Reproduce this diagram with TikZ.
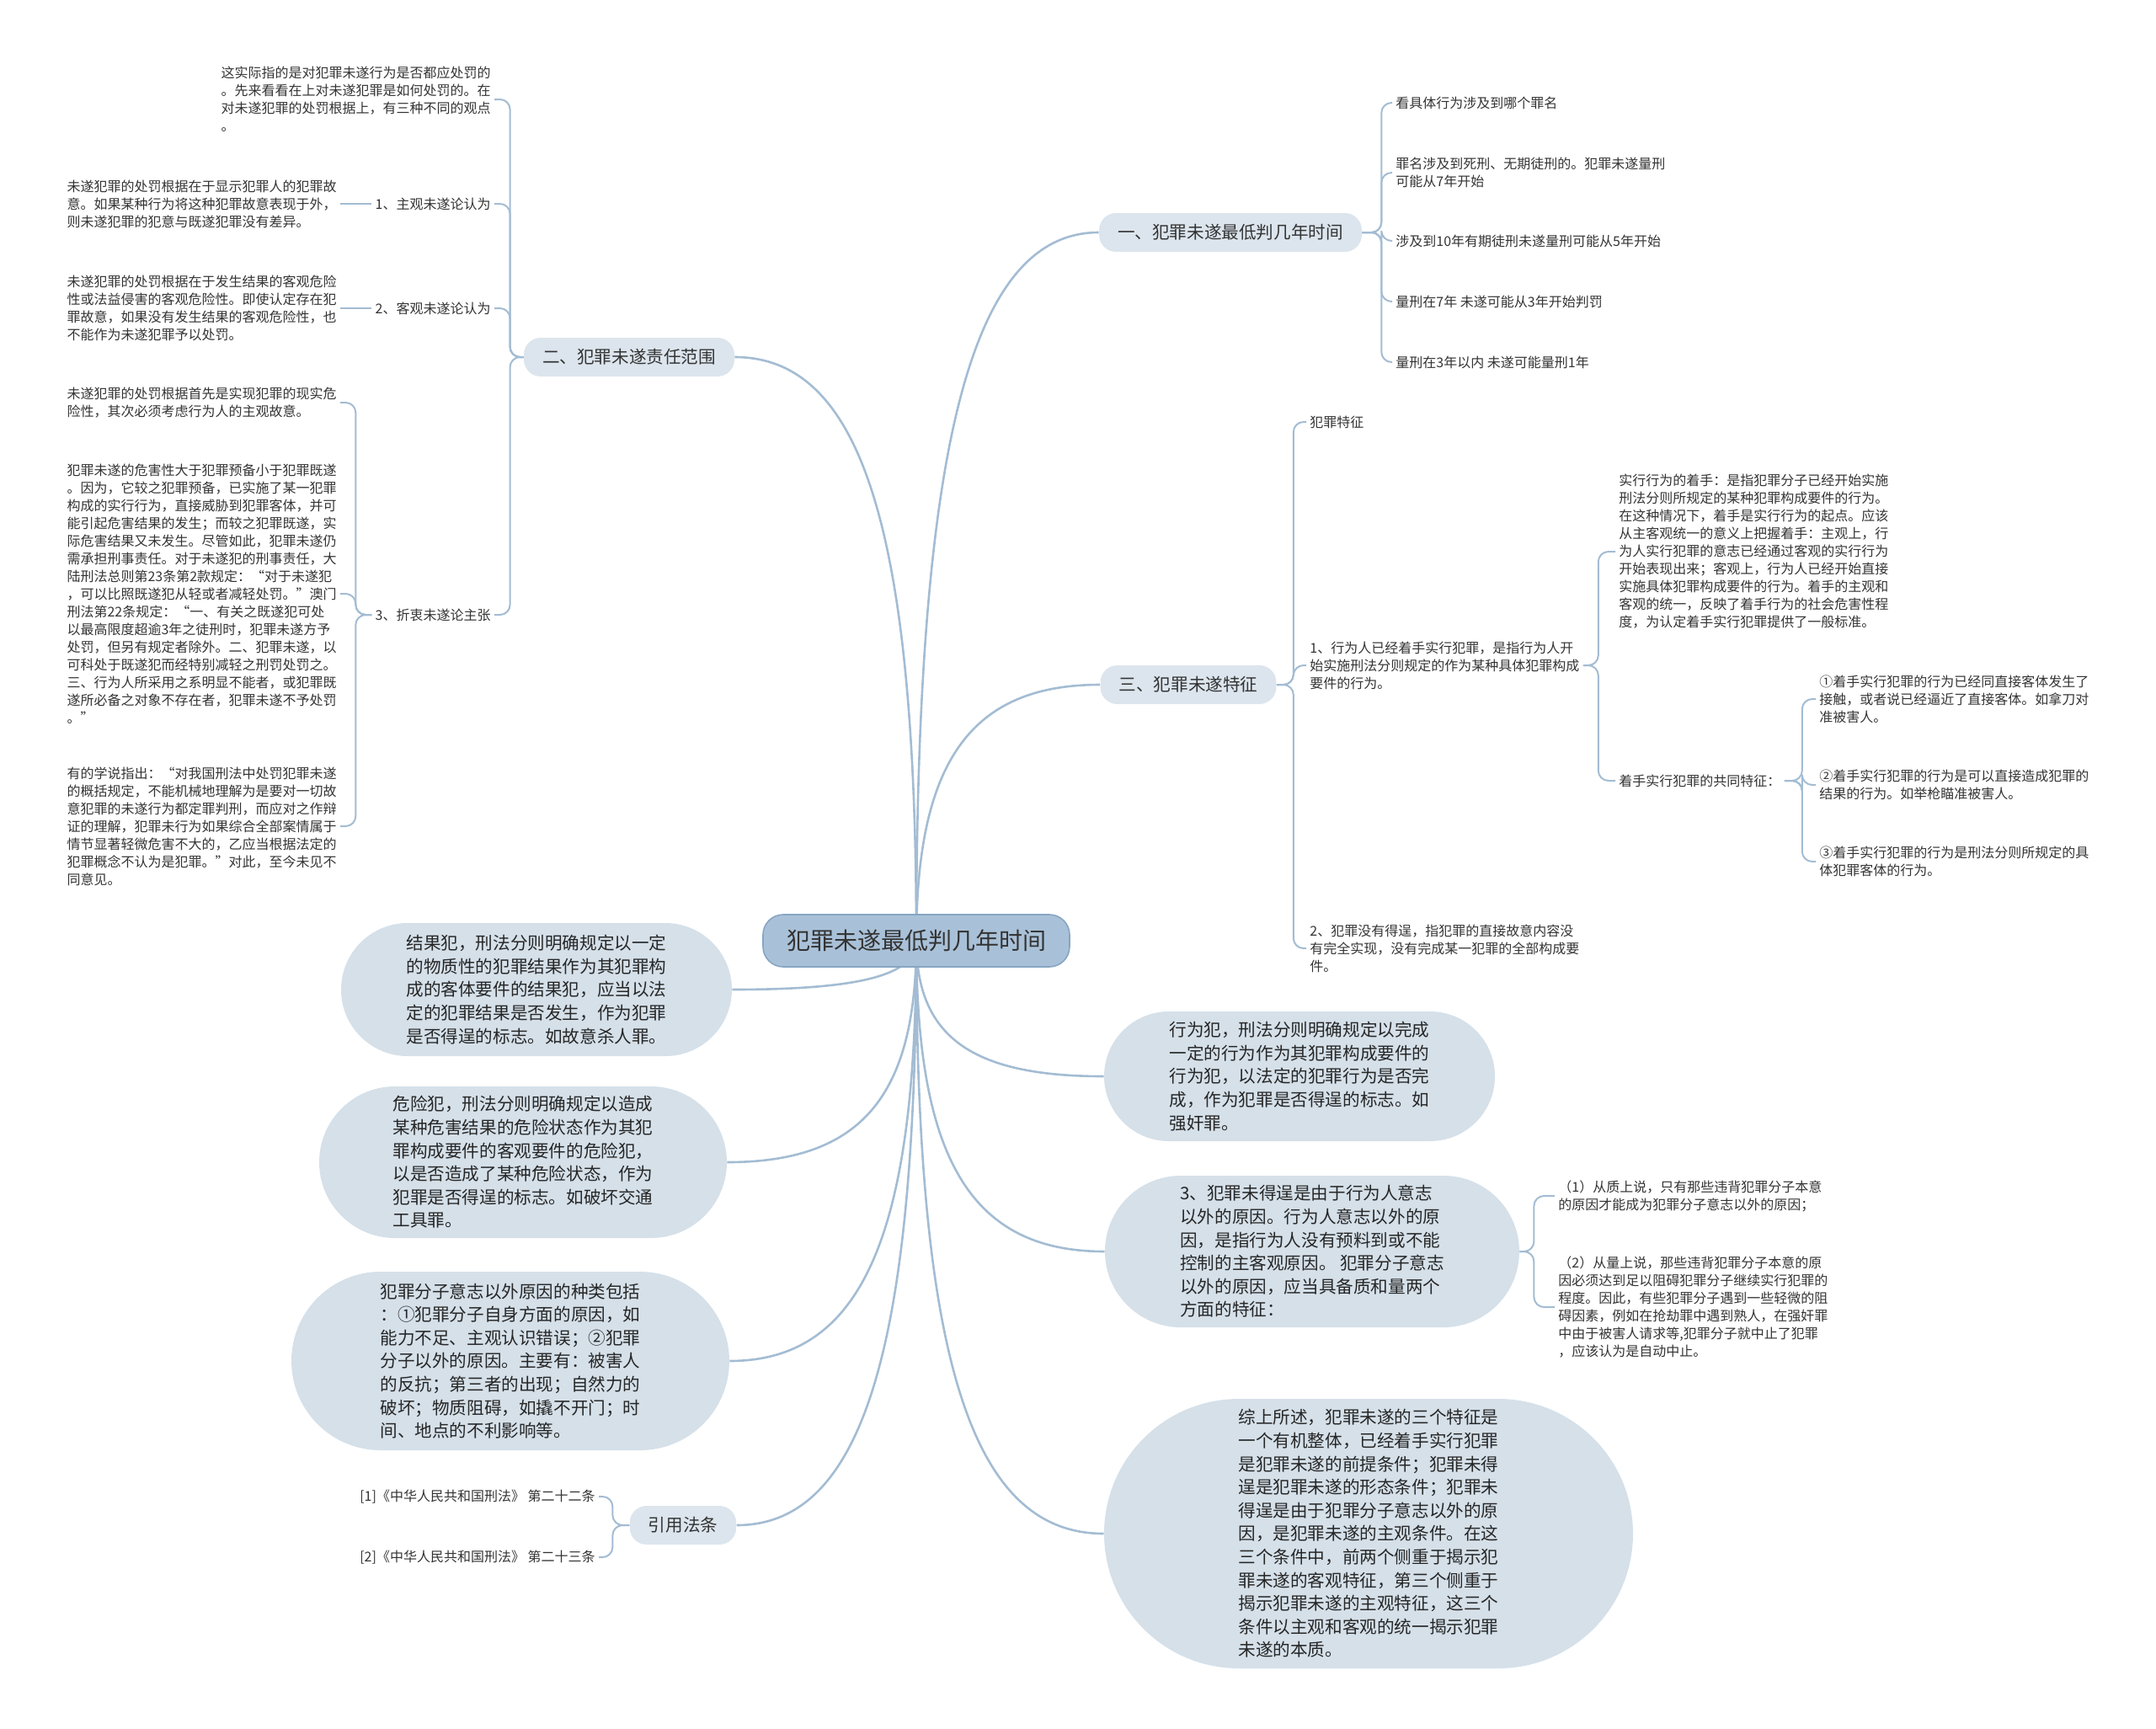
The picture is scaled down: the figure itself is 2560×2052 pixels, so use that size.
\documentclass[tikz,border=0pt]{standalone}
\usepackage{fontspec}
\setmainfont{Noto Sans CJK SC}
\usetikzlibrary{shapes.misc, positioning, backgrounds}
\definecolor{linkblue}{HTML}{A3BCD3}
\definecolor{rootfill}{HTML}{A9C1D8}
\definecolor{rootdraw}{HTML}{86A5C3}
\definecolor{branchfill}{HTML}{DCE5ED}
\definecolor{bubblefill}{HTML}{D5E0E9}
\definecolor{inkgray}{HTML}{333333}

\begin{document}
\begin{tikzpicture}[x=0.5pt, y=-0.5pt,
  root/.style={rectangle, rounded corners=12pt, fill=rootfill, draw=rootdraw,
               line width=0.8pt, minimum width=182pt, minimum height=31pt,
               font=\fontsize{14}{16}\selectfont, text=inkgray},
  branch/.style={rectangle, rounded corners=10pt, fill=branchfill,
                 minimum height=23pt, inner xsep=11pt,
                 font=\fontsize{10.3}{12}\selectfont, text=inkgray},
  leaf/.style={align=left, inner sep=2pt, font=\fontsize{8}{10.5}\selectfont,
               text=inkgray},
  bubble/.style={rounded rectangle, fill=bubblefill, align=left,
                 inner xsep=4pt, inner ysep=5pt,
                 font=\fontsize{10.3}{13.8}\selectfont, text=black!85},
  wire/.style={draw=linkblue, line width=1.3pt},
  link/.style={draw=linkblue, line width=1pt, rounded corners=6pt}
]
\useasboundingbox (0,0) rectangle (2560,2052);

% Central topic
\node[root] (root) at (1088,1117) {犯罪未遂最低判几年时间};

% Branch one: minimum sentence
\node[branch] (b1) at (1461,276) {一、犯罪未遂最低判几年时间};
\node[leaf, anchor=west] (l11) at (1653,122) {看具体行为涉及到哪个罪名};
\node[leaf, anchor=west] (l12) at (1653,205)
      {罪名涉及到死刑、无期徒刑的。犯罪未遂量刑\\可能从7年开始};
\node[leaf, anchor=west] (l13) at (1653,286) {涉及到10年有期徒刑未遂量刑可能从5年开始};
\node[leaf, anchor=west] (l14) at (1653,358) {量刑在7年 未遂可能从3年开始判罚};
\node[leaf, anchor=west] (l15) at (1653,430) {量刑在3年以内 未遂可能量刑1年};

% Branch two: scope of liability
\node[branch] (b2) at (747,424) {二、犯罪未遂责任范围};
\node[leaf, anchor=east] (l21) at (587,118)
      {这实际指的是对犯罪未遂行为是否都应处罚的\\。先来看看在上对未遂犯罪是如何处罚的。在\\对未遂犯罪的处罚根据上，有三种不同的观点\\。};
\node[leaf, anchor=east] (l22) at (587,242) {1、主观未遂论认为};
\node[leaf, anchor=east] (l22a) at (404,242)
      {未遂犯罪的处罚根据在于显示犯罪人的犯罪故\\意。如果某种行为将这种犯罪故意表现于外，\\则未遂犯罪的犯意与既遂犯罪没有差异。};
\node[leaf, anchor=east] (l23) at (587,366) {2、客观未遂论认为};
\node[leaf, anchor=east] (l23a) at (404,366)
      {未遂犯罪的处罚根据在于发生结果的客观危险\\性或法益侵害的客观危险性。即使认定存在犯\\罪故意，如果没有发生结果的客观危险性，也\\不能作为未遂犯罪予以处罚。};
\node[leaf, anchor=east] (l24) at (587,730) {3、折衷未遂论主张};
\node[leaf, anchor=east] (l24a) at (404,478)
      {未遂犯罪的处罚根据首先是实现犯罪的现实危\\险性，其次必须考虑行为人的主观故意。};
\node[leaf, anchor=east] (l24b) at (404,705)
      {犯罪未遂的危害性大于犯罪预备小于犯罪既遂\\。因为，它较之犯罪预备，已实施了某一犯罪\\构成的实行行为，直接威胁到犯罪客体，并可\\能引起危害结果的发生；而较之犯罪既遂，实\\际危害结果又未发生。尽管如此，犯罪未遂仍\\需承担刑事责任。对于未遂犯的刑事责任，大\\陆刑法总则第23条第2款规定：“对于未遂犯\\，可以比照既遂犯从轻或者减轻处罚。”澳门\\刑法第22条规定：“一、有关之既遂犯可处\\以最高限度超逾3年之徒刑时，犯罪未遂方予\\处罚，但另有规定者除外。二、犯罪未遂，以\\可科处于既遂犯而经特别减轻之刑罚处罚之。\\三、行为人所采用之系明显不能者，或犯罪既\\遂所必备之对象不存在者，犯罪未遂不予处罚\\。”};
\node[leaf, anchor=east] (l24c) at (404,981)
      {有的学说指出：“对我国刑法中处罚犯罪未遂\\的概括规定，不能机械地理解为是要对一切故\\意犯罪的未遂行为都定罪判刑，而应对之作辩\\证的理解，犯罪未行为如果综合全部案情属于\\情节显著轻微危害不大的，乙应当根据法定的\\犯罪概念不认为是犯罪。”对此，至今未见不\\同意见。};

% Branch three: features
\node[branch] (b3) at (1411,813) {三、犯罪未遂特征};
\node[leaf, anchor=west] (l31) at (1551,501) {犯罪特征};
\node[leaf, anchor=west] (l32) at (1551,790)
      {1、行为人已经着手实行犯罪，是指行为人开\\始实施刑法分则规定的作为某种具体犯罪构成\\要件的行为。};
\node[leaf, anchor=west] (l33) at (1551,1126)
      {2、犯罪没有得逞，指犯罪的直接故意内容没\\有完全实现，没有完成某一犯罪的全部构成要\\件。};
\node[leaf, anchor=west] (l32a) at (1918,655)
      {实行行为的着手：是指犯罪分子已经开始实施\\刑法分则所规定的某种犯罪构成要件的行为。\\在这种情况下，着手是实行行为的起点。应该\\从主客观统一的意义上把握着手：主观上，行\\为人实行犯罪的意志已经通过客观的实行行为\\开始表现出来；客观上，行为人已经开始直接\\实施具体犯罪构成要件的行为。着手的主观和\\客观的统一，反映了着手行为的社会危害性程\\度，为认定着手实行犯罪提供了一般标准。};
\node[leaf, anchor=west] (l32b) at (1918,927) {着手实行犯罪的共同特征：};
\node[leaf, anchor=west] (l32b1) at (2156,830)
      {①着手实行犯罪的行为已经同直接客体发生了\\接触，或者说已经逼近了直接客体。如拿刀对\\准被害人。};
\node[leaf, anchor=west] (l32b2) at (2156,932)
      {②着手实行犯罪的行为是可以直接造成犯罪的\\结果的行为。如举枪瞄准被害人。};
\node[leaf, anchor=west] (l32b3) at (2156,1023)
      {③着手实行犯罪的行为是刑法分则所规定的具\\体犯罪客体的行为。};

% Bubbles on the right
\node[bubble, minimum width=240pt, minimum height=77pt] (xingwei) at (1543,1278)
      {行为犯，刑法分则明确规定以完成\\一定的行为作为其犯罪构成要件的\\行为犯，以法定的犯罪行为是否完\\成，作为犯罪是否得逞的标志。如\\强奸罪。};
\node[bubble, minimum width=254pt, minimum height=90pt] (weidesui) at (1558,1486)
      {3、犯罪未得逞是由于行为人意志\\以外的原因。行为人意志以外的原\\因，是指行为人没有预料到或不能\\控制的主客观原因。 犯罪分子意志\\以外的原因，应当具备质和量两个\\方面的特征：};
\node[leaf, anchor=west] (w1) at (1846,1420)
      {（1）从质上说，只有那些违背犯罪分子本意\\的原因才能成为犯罪分子意志以外的原因；};
\node[leaf, anchor=west] (w2) at (1846,1552)
      {（2）从量上说，那些违背犯罪分子本意的原\\因必须达到足以阻碍犯罪分子继续实行犯罪的\\程度。因此，有些犯罪分子遇到一些轻微的阻\\碍因素，例如在抢劫罪中遇到熟人，在强奸罪\\中由于被害人请求等,犯罪分子就中止了犯罪\\，应该认为是自动中止。};
\node[bubble, minimum width=322pt, minimum height=160pt] (zongshang) at (1625,1821)
      {综上所述，犯罪未遂的三个特征是\\一个有机整体，已经着手实行犯罪\\是犯罪未遂的前提条件；犯罪未得\\逞是犯罪未遂的形态条件；犯罪未\\得逞是由于犯罪分子意志以外的原\\因，是犯罪未遂的主观条件。在这\\三个条件中，前两个侧重于揭示犯\\罪未遂的客观特征，第三个侧重于\\揭示犯罪未遂的主观特征，这三个\\条件以主观和客观的统一揭示犯罪\\未遂的本质。};

% Bubbles on the left
\node[bubble, minimum width=240pt, minimum height=79pt] (jieguo) at (637,1175)
      {结果犯，刑法分则明确规定以一定\\的物质性的犯罪结果作为其犯罪构\\成的客体要件的结果犯，应当以法\\定的犯罪结果是否发生，作为犯罪\\是否得逞的标志。如故意杀人罪。};
\node[bubble, minimum width=250pt, minimum height=90pt] (weixian) at (621,1380)
      {危险犯，刑法分则明确规定以造成\\某种危害结果的危险状态作为其犯\\罪构成要件的客观要件的危险犯，\\以是否造成了某种危险状态，作为\\犯罪是否得逞的标志。如破坏交通\\工具罪。};
\node[bubble, minimum width=268pt, minimum height=106pt] (yuanyin) at (606,1616)
      {犯罪分子意志以外原因的种类包括\\：①犯罪分子自身方面的原因，如\\能力不足、主观认识错误；②犯罪\\分子以外的原因。主要有：被害人\\的反抗；第三者的出现；自然力的\\破坏；物质阻碍，如撬不开门；时\\间、地点的不利影响等。};

% Cited articles
\node[branch] (yinyong) at (811,1811) {引用法条};
\node[leaf, anchor=east] (y1) at (711,1777) {[1]《中华人民共和国刑法》 第二十二条};
\node[leaf, anchor=east] (y2) at (711,1849) {[2]《中华人民共和国刑法》 第二十三条};

% Main curves from the centre
\begin{scope}[on background layer]
\draw[wire] (root.center) .. controls (1088,528) and (1153,276) .. (b1.west);
\draw[wire] (root.center) .. controls (1088,632) and (1024,424) .. (b2.east);
\draw[wire] (root.center) .. controls (1088,904) and (1153,813) .. (b3.west);
\draw[wire] (root.center) .. controls (1088,1157) and (1025,1175) .. (jieguo.east);
\draw[wire] (root.center) .. controls (1088,1301) and (1023,1380) .. (weixian.east);
\draw[wire] (root.center) .. controls (1088,1466) and (1024,1616) .. (yuanyin.east);
\draw[wire] (root.center) .. controls (1088,1603) and (1024,1811) .. (yinyong.east);
\draw[wire] (root.center) .. controls (1088,1230) and (1152,1278) .. (xingwei.west);
\draw[wire] (root.center) .. controls (1088,1375) and (1152,1486) .. (weidesui.west);
\draw[wire] (root.center) .. controls (1088,1610) and (1152,1821) .. (zongshang.west);
\end{scope}

% Brackets
\draw[link] (b1.east) -- ++(23,0) |- (l11.west);
\draw[link] (b1.east) -- ++(23,0) |- (l12.west);
\draw[link] (b1.east) -- ++(23,0) |- (l13.west);
\draw[link] (b1.east) -- ++(23,0) |- (l14.west);
\draw[link] (b1.east) -- ++(23,0) |- (l15.west);

\draw[link] (b2.west) -- ++(-16,0) |- (l21.east);
\draw[link] (b2.west) -- ++(-16,0) |- (l22.east);
\draw[link] (b2.west) -- ++(-16,0) |- (l23.east);
\draw[link] (b2.west) -- ++(-16,0) |- (l24.east);
\draw[link] (l22.west) -- (l22a.east);
\draw[link] (l23.west) -- (l23a.east);
\draw[link] (l24.west) -- ++(-19,0) |- (l24a.east);
\draw[link] (l24.west) -- ++(-19,0) |- (l24b.east);
\draw[link] (l24.west) -- ++(-19,0) |- (l24c.east);

\draw[link] (b3.east) -- ++(20,0) |- (l31.west);
\draw[link] (b3.east) -- ++(20,0) |- (l32.west);
\draw[link] (b3.east) -- ++(20,0) |- (l33.west);
\draw[link] (l32.east) -- ++(18,0) |- (l32a.west);
\draw[link] (l32.east) -- ++(18,0) |- (l32b.west);
\draw[link] (l32b.east) -- ++(21,0) |- (l32b1.west);
\draw[link] (l32b.east) -- ++(21,0) |- (l32b2.west);
\draw[link] (l32b.east) -- ++(21,0) |- (l32b3.west);

\draw[link] (weidesui.east) -- ++(17,0) |- (w1.west);
\draw[link] (weidesui.east) -- ++(17,0) |- (w2.west);

\draw[link] (yinyong.west) -- ++(-20,0) |- (y1.east);
\draw[link] (yinyong.west) -- ++(-20,0) |- (y2.east);

\end{tikzpicture}
\end{document}
